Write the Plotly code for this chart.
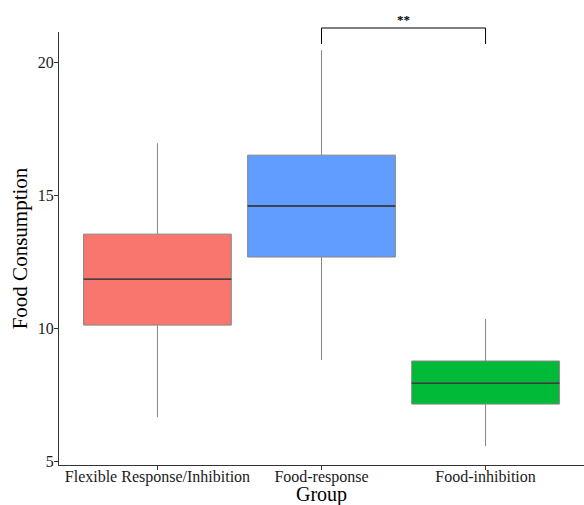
import plotly.graph_objects as go

groups = ["Flexible Response/Inhibition", "Food-response", "Food-inhibition"]
lower = [6.65, 8.80, 5.56]
q1 = [10.11, 12.67, 7.14]
median = [11.84, 14.59, 7.93]
q3 = [13.53, 16.50, 8.76]
upper = [16.95, 20.45, 10.34]
colors = ["#F8766D", "#619CFF", "#00BA38"]
sig_label = "**"
sig_pair = (1, 2)
sig_y = 21.28
sig_tick = 20.68

y_range = [4.85, 21.13]
box_width = 0.9

fig = go.Figure()
for i, g in enumerate(groups):
    fig.add_trace(go.Box(
        x=[g], q1=[q1[i]], median=[median[i]], q3=[q3[i]],
        lowerfence=[lower[i]], upperfence=[upper[i]],
        fillcolor=colors[i], line=dict(color="#858585", width=1),
        whiskerwidth=0, width=box_width, boxpoints=False, showlegend=False,
        hoverinfo="skip"
    ))
    fig.add_shape(type="line", xref="x", yref="y",
                  x0=i - box_width / 2, x1=i + box_width / 2,
                  y0=median[i], y1=median[i], line=dict(color="#2b2b2b", width=1.4))

def to_paper(v):
    return (v - y_range[0]) / (y_range[1] - y_range[0])

xa, xb = sig_pair
for (x0, y0, x1, y1) in [(xa, sig_tick, xa, sig_y), (xa, sig_y, xb, sig_y), (xb, sig_y, xb, sig_tick)]:
    fig.add_shape(type="line", xref="x", yref="paper", x0=x0, x1=x1,
                  y0=to_paper(y0), y1=to_paper(y1), line=dict(color="black", width=1))
fig.add_annotation(x=(xa + xb) / 2, xref="x", yref="paper", y=to_paper(sig_y) - 0.003,
                   text="<b>" + sig_label + "</b>", showarrow=False, yanchor="bottom",
                   font=dict(family="Liberation Serif", size=13, color="black"))

fig.add_annotation(x=0.5, xref="paper", yref="paper", y=-0.069, yanchor="middle",
                   text="Group", showarrow=False,
                   font=dict(family="Liberation Serif", size=20, color="black"))

fig.update_layout(
    width=584, height=505,
    margin=dict(l=59, r=0, t=32, b=40),
    plot_bgcolor="white", paper_bgcolor="white",
    font=dict(family="Liberation Serif", color="black"),
    xaxis=dict(range=[-0.6, 2.6], showline=True, linecolor="#333333", linewidth=1,
               ticks="outside", ticklen=4, tickcolor="#333333", automargin=False,
               ticklabelstandoff=-7,
               tickfont=dict(size=16, color="#1a1a1a"), showgrid=False, zeroline=False),
    yaxis=dict(title=dict(text="Food Consumption", font=dict(size=21), standoff=4),
               range=y_range, tickvals=[5, 10, 15, 20], showline=True, linecolor="#333333",
               linewidth=1, ticks="outside", ticklen=4, tickcolor="#333333", automargin=False,
               ticklabelstandoff=-3,
               tickfont=dict(size=16, color="#1a1a1a"), showgrid=False, zeroline=False),
)

fig.write_html("out.html", post_script="document.body.style.margin='0';",
               config={"displayModeBar": False})
